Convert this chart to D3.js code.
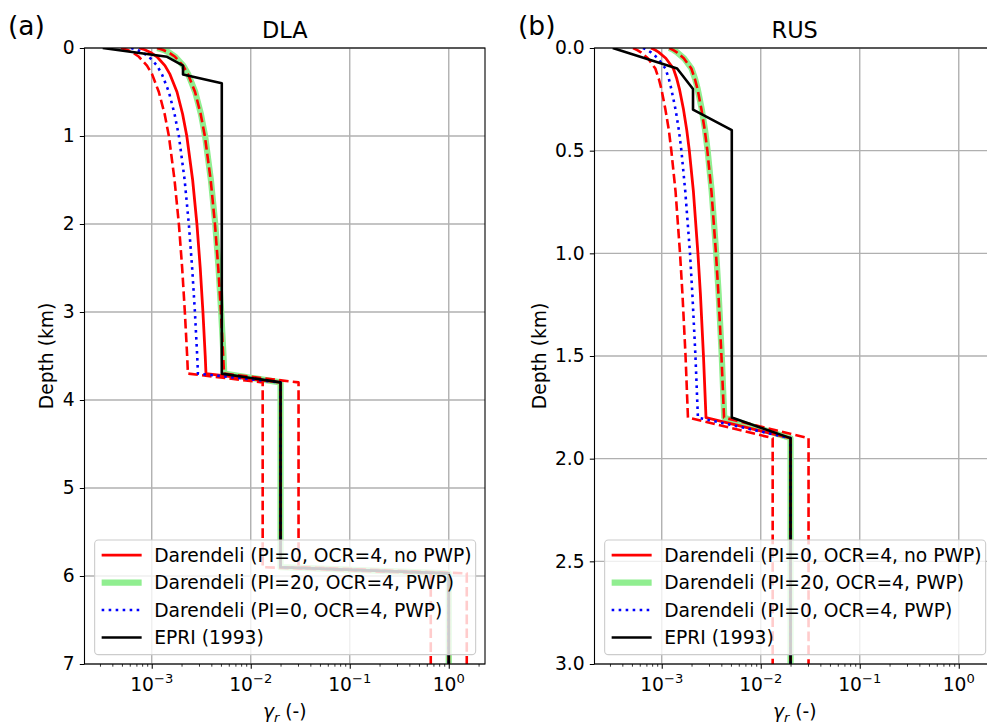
<!DOCTYPE html>
<html><head><meta charset="utf-8">
<script src="https://cdn.jsdelivr.net/npm/d3@7"></script>
<style>
body{margin:0;background:#fff}
text{font-family:"DejaVu Sans",sans-serif;fill:#000}
</style>
</head><body>
<svg id="c" width="987" height="725"></svg>
<script>
// ---------------- DATA ----------------
const legendLabels = ["Darendeli (PI=0, OCR=4, no PWP)","Darendeli (PI=20, OCR=4, PWP)","Darendeli (PI=0, OCR=4, PWP)","EPRI (1993)"];
const xMajorTicks = [1e-3, 1e-2, 1e-1, 1];
const xTickExp = ["\u22123","\u22122","\u22121","0"];

// DLA
const dlaDepth = [0, 0.02, 0.05, 0.1, 0.2, 0.3, 0.5, 0.75, 1.0, 1.5, 2.0, 2.5, 3.0, 3.5, 3.7, 3.8, 5.9, 5.97, 7.0];
const dlaRed   = [7.46e-4, 8.51e-4, 9.73e-4, 1.13e-3, 1.36e-3, 1.53e-3, 1.80e-3, 2.05e-3, 2.26e-3, 2.59e-3, 2.86e-3, 3.09e-3, 3.29e-3, 3.47e-3, 3.53e-3, 0.02, 0.02, 1.0, 1.0];
const dlaGreen = [1.14e-3, 1.30e-3, 1.49e-3, 1.73e-3, 2.08e-3, 2.34e-3, 2.75e-3, 3.14e-3, 3.46e-3, 3.96e-3, 4.38e-3, 4.73e-3, 5.03e-3, 5.31e-3, 5.40e-3, 0.02, 0.02, 1.0, 1.0];
const dlaBlue  = [6.19e-4, 7.06e-4, 8.08e-4, 9.38e-4, 1.13e-3, 1.27e-3, 1.49e-3, 1.70e-3, 1.88e-3, 2.15e-3, 2.37e-3, 2.56e-3, 2.73e-3, 2.88e-3, 2.93e-3, 0.02, 0.02, 1.0, 1.0];
const dlaLow   = [4.91e-4, 5.60e-4, 6.40e-4, 7.43e-4, 8.95e-4, 1.01e-3, 1.18e-3, 1.35e-3, 1.49e-3, 1.70e-3, 1.88e-3, 2.03e-3, 2.16e-3, 2.28e-3, 2.32e-3, 0.0132, 0.0132, 0.658, 0.658];
const dlaHigh  = [1.13e-3, 1.29e-3, 1.48e-3, 1.72e-3, 2.07e-3, 2.33e-3, 2.74e-3, 3.12e-3, 3.44e-3, 3.94e-3, 4.35e-3, 4.70e-3, 5.00e-3, 5.27e-3, 5.37e-3, 0.0304, 0.0304, 1.52, 1.52];
const dlaEpriDepth = [0, 0.1, 0.2, 0.3, 0.4, 3.7, 3.8, 5.9, 5.97, 7.0];
const dlaEpri      = [3.2e-4, 1.43e-3, 2.07e-3, 2.07e-3, 5.1e-3, 5.1e-3, 0.02, 0.02, 1.0, 1.0];
const dlaYTicks = [0, 1, 2, 3, 4, 5, 6, 7];

// RUS
const rusDepth = [0, 0.01, 0.02, 0.05, 0.1, 0.15, 0.2, 0.3, 0.4, 0.5, 0.7, 1.0, 1.2, 1.5, 1.8, 1.9, 3.0];
const rusRed   = [7.8e-4, 8.6e-4, 9.3e-4, 1.10e-3, 1.31e-3, 1.42e-3, 1.51e-3, 1.66e-3, 1.79e-3, 1.90e-3, 2.09e-3, 2.32e-3, 2.46e-3, 2.64e-3, 2.80e-3, 0.02, 0.02];
const rusGreen = [1.19e-3, 1.32e-3, 1.42e-3, 1.68e-3, 2.00e-3, 2.17e-3, 2.31e-3, 2.54e-3, 2.74e-3, 2.91e-3, 3.20e-3, 3.55e-3, 3.76e-3, 4.04e-3, 4.28e-3, 0.02, 0.02];
const rusBlue  = [6.47e-4, 7.14e-4, 7.72e-4, 9.13e-4, 1.09e-3, 1.18e-3, 1.25e-3, 1.38e-3, 1.49e-3, 1.58e-3, 1.73e-3, 1.93e-3, 2.04e-3, 2.19e-3, 2.32e-3, 0.02, 0.02];
const rusLow   = [5.13e-4, 5.66e-4, 6.12e-4, 7.24e-4, 8.62e-4, 9.34e-4, 9.93e-4, 1.09e-3, 1.18e-3, 1.25e-3, 1.38e-3, 1.53e-3, 1.62e-3, 1.74e-3, 1.84e-3, 0.0132, 0.0132];
const rusHigh  = [1.19e-3, 1.31e-3, 1.41e-3, 1.67e-3, 1.99e-3, 2.16e-3, 2.30e-3, 2.52e-3, 2.72e-3, 2.89e-3, 3.18e-3, 3.53e-3, 3.74e-3, 4.01e-3, 4.26e-3, 0.0304, 0.0304];
const rusEpriDepth = [0, 0.1, 0.2, 0.3, 0.4, 1.8, 1.9, 3.0];
const rusEpri      = [3.2e-4, 1.43e-3, 2.07e-3, 2.07e-3, 5.1e-3, 5.1e-3, 0.02, 0.02];
const rusYTicks = [0, 0.5, 1.0, 1.5, 2.0, 2.5, 3.0];

// ---------------- LAYOUT ----------------
const FS = 18.7;
const Y0 = 48, Y1 = 664;
const xDomain = [2.094e-4, 2.323];
const panels = [
  {x0:84.5, x1:485, tag:"(a)", title:"DLA", ymax:7, yticks:dlaYTicks, fmt:d3.format("d"), ylabX:46,
   depth:dlaDepth, red:dlaRed, green:dlaGreen, blue:dlaBlue, low:dlaLow, high:dlaHigh, epriDepth:dlaEpriDepth, epri:dlaEpri},
  {x0:594.5, x1:995, tag:"(b)", title:"RUS", ymax:3, yticks:rusYTicks, fmt:d3.format(".1f"), ylabX:539,
   depth:rusDepth, red:rusRed, green:rusGreen, blue:rusBlue, low:rusLow, high:rusHigh, epriDepth:rusEpriDepth, epri:rusEpri}
];

const svg = d3.select("#c");
const defs = svg.append("defs");

panels.forEach((p, i) => {
  const x = d3.scaleLog().domain(xDomain).range([p.x0, p.x1]);
  const y = d3.scaleLinear().domain([0, p.ymax]).range([Y0, Y1]);
  const g = svg.append("g");

  defs.append("clipPath").attr("id", "clip" + i).append("rect")
    .attr("x", p.x0).attr("y", Y0).attr("width", p.x1 - p.x0).attr("height", Y1 - Y0);

  // grid
  const grid = g.append("g").attr("stroke", "#b0b0b0").attr("stroke-width", 1.4);
  grid.selectAll(".gx").data(xMajorTicks).join("line")
    .attr("x1", d => x(d)).attr("x2", d => x(d)).attr("y1", Y0).attr("y2", Y1);
  grid.selectAll(".gy").data(p.yticks).join("line")
    .attr("x1", p.x0).attr("x2", p.x1).attr("y1", d => y(d)).attr("y2", d => y(d));

  // data
  const line = d3.line().x(d => x(d[0])).y(d => y(d[1]));
  const data = g.append("g").attr("clip-path", `url(#clip${i})`).attr("fill", "none")
    .attr("stroke-linejoin", "round");
  const series = [
    {v:p.green, d:p.depth, c:"#90ee90", w:6.2},
    {v:p.red, d:p.depth, c:"#ff0000", w:2.8},
    {v:p.low, d:p.depth, c:"#ff0000", w:2.6, dash:"9.6,4.2"},
    {v:p.high, d:p.depth, c:"#ff0000", w:2.6, dash:"9.6,4.2"},
    {v:p.blue, d:p.depth, c:"#0000ff", w:2.6, dash:"2.6,4.4"},
    {v:p.epri, d:p.epriDepth, c:"#000000", w:2.6}
  ];
  series.forEach(s => {
    data.append("path").datum(d3.zip(s.v, s.d))
      .attr("d", line).attr("stroke", s.c).attr("stroke-width", s.w)
      .attr("stroke-dasharray", s.dash || null);
  });

  // axes
  const xAxis = g.append("g").attr("transform", `translate(0,${Y1})`)
    .call(d3.axisBottom(x).tickValues(xMajorTicks).tickSize(4.7).tickFormat(""));
  const minor = [];
  for (let e = -4; e <= 0; e++) for (let k = 2; k <= 9; k++) {
    const v = k * Math.pow(10, e);
    if (v > xDomain[0] && v < xDomain[1]) minor.push(v);
  }
  const xMinor = g.append("g").attr("transform", `translate(0,${Y1})`)
    .call(d3.axisBottom(x).tickValues(minor).tickSize(2.7).tickFormat(""));
  [xAxis, xMinor].forEach(a => { a.select(".domain").remove(); a.selectAll("line").attr("stroke-width", 1.05); });
  xMinor.selectAll("line").attr("stroke-width", 0.8);

  // x tick labels with superscripts
  const xl = g.append("g");
  xMajorTicks.forEach((t, k) => {
    const tx = xl.append("text").attr("x", x(t)).attr("y", 690.5).attr("text-anchor", "middle")
      .style("font-size", FS + "px");
    tx.append("tspan").text("10");
    tx.append("tspan").attr("dy", -7.5).style("font-size", (FS * 0.7) + "px").text(xTickExp[k]);
  });

  const yAxis = g.append("g").attr("transform", `translate(${p.x0},0)`)
    .call(d3.axisLeft(y).tickValues(p.yticks).tickSize(4.7).tickPadding(5.2).tickFormat(p.fmt));
  yAxis.select(".domain").remove();
  yAxis.selectAll("line").attr("stroke-width", 1.05);
  yAxis.selectAll("text").style("font-size", FS + "px").style("font-family", "DejaVu Sans");

  // spines
  g.append("rect").attr("x", p.x0).attr("y", Y0).attr("width", p.x1 - p.x0).attr("height", Y1 - Y0)
    .attr("fill", "none").attr("stroke", "#000").attr("stroke-width", 1.1);

  // titles
  g.append("text").attr("x", (p.x0 + p.x1) / 2).attr("y", 37.5).attr("text-anchor", "middle")
    .style("font-size", (FS * 1.2) + "px").text(p.title);
  g.append("text").attr("x", p.x0 - 76.5).attr("y", 34.5)
    .style("font-size", "26.5px").text(p.tag);

  // axis labels
  const xlab = g.append("text").attr("x", (p.x0 + p.x1) / 2).attr("y", 718).attr("text-anchor", "middle")
    .style("font-size", FS + "px");
  xlab.append("tspan").style("font-style", "italic").text("\u03b3");
  xlab.append("tspan").attr("dy", 3.5).style("font-style", "italic").style("font-size", (FS * 0.7) + "px").text("r");
  xlab.append("tspan").attr("dy", -3.5).text(" (-)");

  const cy = (Y0 + Y1) / 2;
  g.append("text").attr("transform", `translate(${p.ylabX},${cy}) rotate(-90)`)
    .attr("text-anchor", "middle").attr("dy", "0.35em").style("font-size", FS + "px").text("Depth (km)");

  // legend
  const lw = 381, lh = 114.6;
  const lx = p.x1 - 9.35 - lw, ly = Y1 - 9.35 - lh;
  const lg = g.append("g");
  lg.append("rect").attr("x", lx).attr("y", ly).attr("width", lw).attr("height", lh)
    .attr("rx", 3.7).attr("fill", "#fff").attr("fill-opacity", 0.8)
    .attr("stroke", "#cccccc").attr("stroke-width", 1.1);
  const handles = [
    {c:"#ff0000", w:2.8},
    {c:"#90ee90", w:6.2},
    {c:"#0000ff", w:2.6, dash:"2.6,4.4"},
    {c:"#000000", w:2.6}
  ];
  legendLabels.forEach((lab, k) => {
    const ry = ly + 15 + k * 27.5;
    lg.append("line").attr("x1", lx + 7).attr("x2", lx + 47).attr("y1", ry).attr("y2", ry)
      .attr("stroke", handles[k].c).attr("stroke-width", handles[k].w)
      .attr("stroke-dasharray", handles[k].dash || null);
    lg.append("text").attr("x", lx + 59.5).attr("y", ry + 6.8).style("font-size", FS + "px").text(lab);
  });
});
</script>
</body></html>
